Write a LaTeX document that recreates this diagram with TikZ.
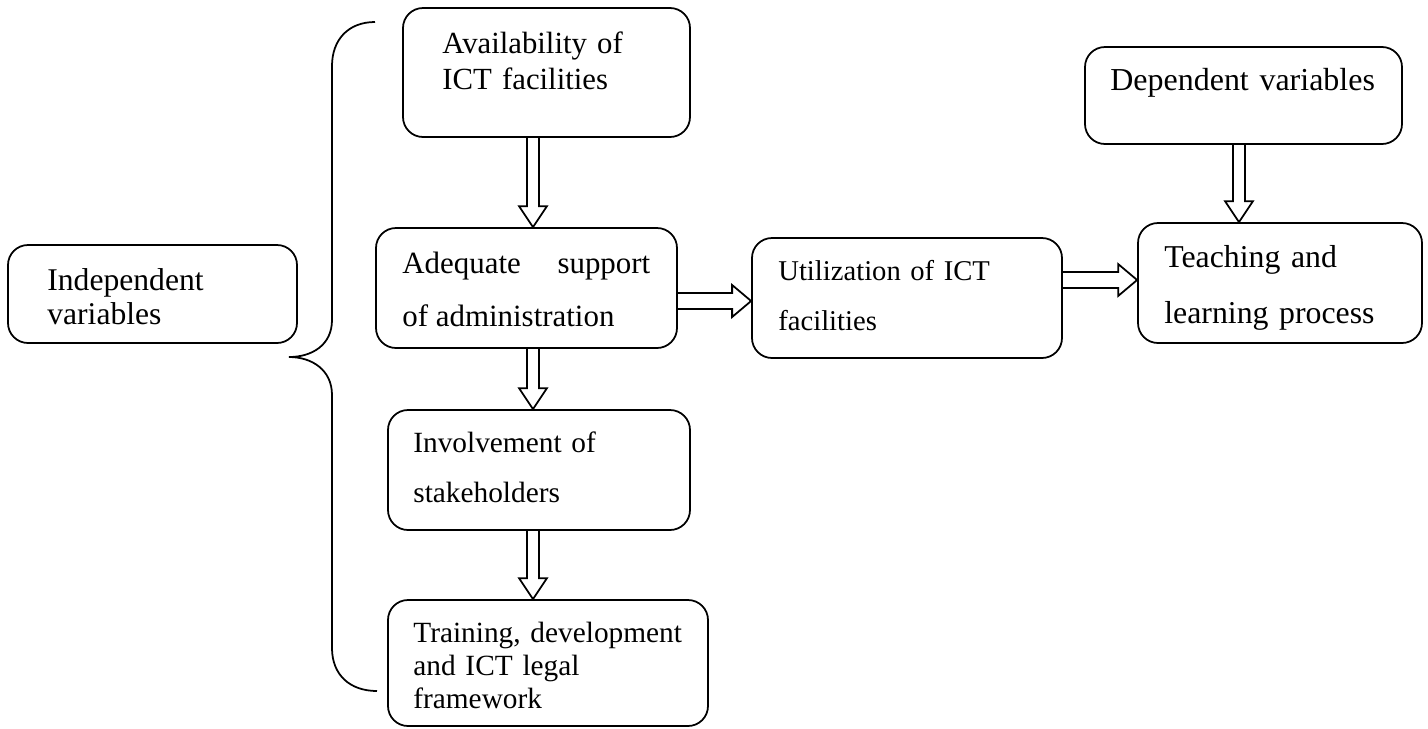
\documentclass[tikz,border=0pt]{standalone}
\usepackage{fontspec}
\setmainfont{Liberation Serif}
\usetikzlibrary{positioning,calc,fit}

\begin{document}
\begin{tikzpicture}[
    x=0.02cm, y=-0.02cm,
    box/.style={rectangle, draw, line width=1pt, rounded corners=0.4cm, inner sep=0pt},
    txt/.style 2 args={anchor=base west, inner sep=0pt, align=left, text width=7cm, font=\fontsize{#1}{#2}\selectfont},
    hollow down/.style={line width=1pt, to path={
        ($(\tikztostart)+(-6,0)$) -- ($(\tikztotarget)+(-6,-21)$) -- ++(-8,0) -- (\tikztotarget)
        -- ++(14,-21) -- ++(-8,0) -- ($(\tikztostart)+(6,0)$)}},
    hollow right/.style={line width=1pt, to path={
        ($(\tikztostart)+(0,-8)$) -- ($(\tikztotarget)+(-19,-8)$) -- ++(0,-8) -- (\tikztotarget)
        -- ++(-19,16) -- ++(0,-8) -- ($(\tikztostart)+(0,8)$)}}
]
    \useasboundingbox (0,0) rectangle (1428,728);

    % Independent variables
    \node[box, fit={(8,245) (297,343)}] (indep) {};
    \node[txt={18}{19.9}] (indeptext) at (47,290) {Independent\\variables};

    % Brace
    \draw[line width=1pt] (375,22) .. controls (348,22) and (332,40) .. (332,66) -- (332,320)
        .. controls (332,345) and (312,357) .. (289,357)
        .. controls (312,357) and (332,370) .. (332,395) -- (332,648)
        .. controls (332,675) and (350,691) .. (377,691);

    % Left column
    \node[box, fit={(403,8) (690,137)}] (avail) {};
    \node[txt={17.5}{21}] (availtext) at (442,53) {Availability of\\ICT facilities};
    \node[box, fit={(376,228) (677,348)}] (adequate) {};
    \node[txt={17.6}{30.7}, text width=4.96cm, align=justify] (adequatetext) at (402,273)
        {Adequate\hfill support\\of administration};
    \node[box, fit={(388,410) (690,530)}] (involve) {};
    \node[txt={16.7}{28.5}] (involvetext) at (413,452) {Involvement of\\stakeholders};
    \node[box, fit={(388,600) (708,726)}] (train) {};
    \node[txt={16.7}{18.8}] (traintext) at (413,642) {Training, development\\and ICT legal\\framework};

    % Right part
    \node[box, fit={(752,238) (1062,358)}] (util) {};
    \node[txt={16.3}{28.5}] (utiltext) at (778,280) {Utilization of ICT\\facilities};
    \node[box, fit={(1085,47) (1402,144)}] (dep) {};
    \node[txt={18.2}{20}] (deptext) at (1110,90) {Dependent variables};
    \node[box, fit={(1138,223) (1422,343)}] (teach) {};
    \node[txt={18.1}{31.9}] (teachtext) at (1164,267) {Teaching and\\learning process};

    % Arrows
    \draw[hollow down] (533,0 |- avail.south) to (533,0 |- adequate.north);
    \draw[hollow down] (533,0 |- adequate.south) to (533,0 |- involve.north);
    \draw[hollow down] (533,0 |- involve.south) to (533,0 |- train.north);
    \draw[hollow down] (1239,0 |- dep.south) to (1239,0 |- teach.north);
    \draw[hollow right] (adequate.east |- 0,301) to (util.west |- 0,301);
    \draw[hollow right] (util.east |- 0,280) to (teach.west |- 0,280);
\end{tikzpicture}
\end{document}
